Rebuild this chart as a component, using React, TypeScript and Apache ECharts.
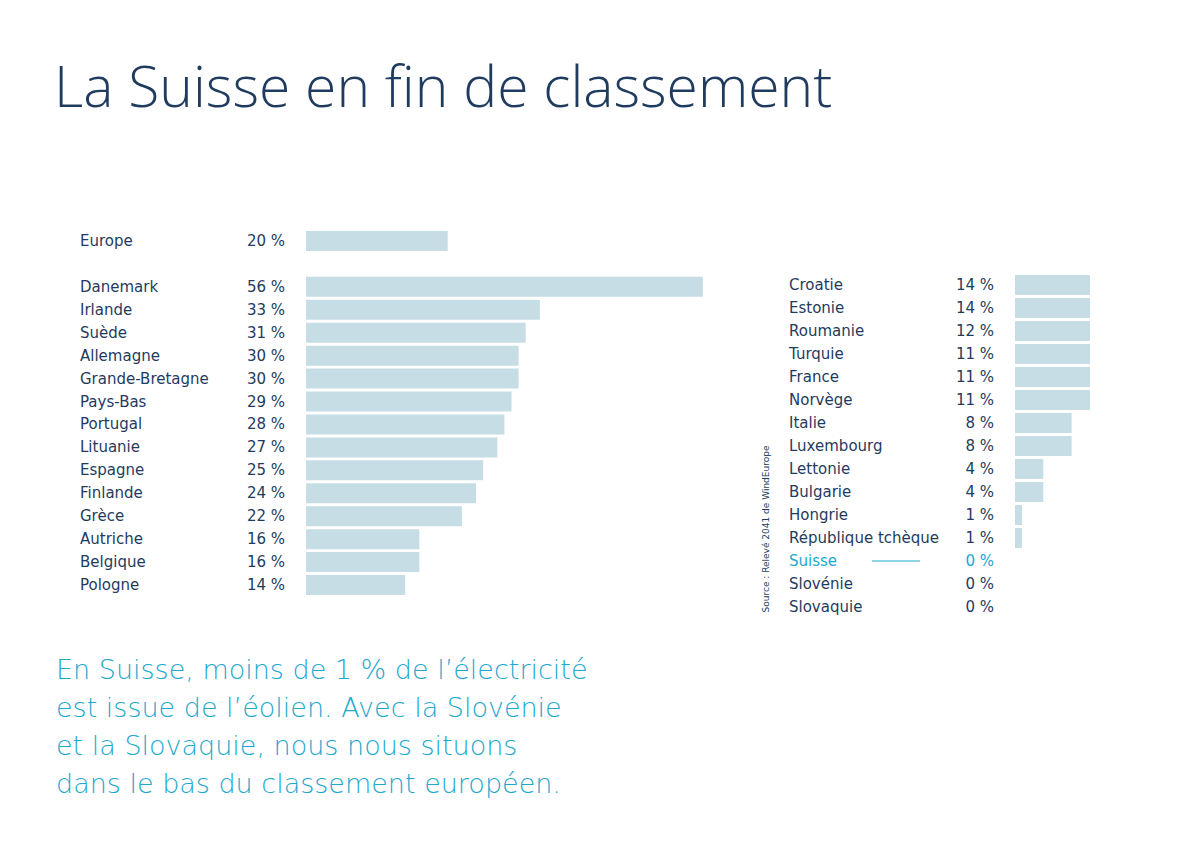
import React, { useEffect, useRef } from "react";
import * as echarts from "echarts";

const leftCountries = ["Europe", "", "Danemark", "Irlande", "Suède", "Allemagne", "Grande-Bretagne", "Pays-Bas", "Portugal", "Lituanie", "Espagne", "Finlande", "Grèce", "Autriche", "Belgique", "Pologne"];
const leftValues: (number | null)[] = [20, null, 56, 33, 31, 30, 30, 29, 28, 27, 25, 24, 22, 16, 16, 14];
const rightCountries = ["Croatie", "Estonie", "Roumanie", "Turquie", "France", "Norvège", "Italie", "Luxembourg", "Lettonie", "Bulgarie", "Hongrie", "République tchèque", "Suisse", "Slovénie", "Slovaquie"];
const rightValues = [14, 14, 12, 11, 11, 11, 8, 8, 4, 4, 1, 1, 0, 0, 0];

const titleText = "La Suisse en fin de classement";
const bodyText = "En Suisse, moins de 1 % de l’électricité\nest issue de l’éolien. Avec la Slovénie\net la Slovaquie, nous nous situons\ndans le bas du classement européen.";
const sourceText = "Source : Relevé 2041 de WindEurope";

const NAVY = "#1f3b5e";
const CYAN = "#1ea8cd";
const BAR = "#c6dde5";
const FONT = "DejaVu Sans";
const LIGHT = "Open Sans";

const fmt = (v: number | null) => (v === null ? "" : `${v} %`);

export default function App() {
  const ref = useRef<HTMLDivElement>(null);
  useEffect(() => {
    document.body.style.margin = "0";
    const chart = echarts.init(ref.current!, null, { renderer: "svg" });
    const labelStyle = { color: NAVY, fontFamily: FONT, fontSize: 15, fontWeight: "normal" as any };
    const mkNameAxis = (gi: number, cats: string[]) => ({
      type: "category",
      gridIndex: gi,
      position: "left",
      inverse: true,
      data: cats.map((name) =>
        name === "Suisse" ? { value: name, textStyle: { color: CYAN, align: "left" } } : name
      ),
      axisLine: { show: false },
      axisTick: { show: false },
      axisLabel: { ...labelStyle, align: "left", margin: 226, interval: 0 },
    });
    const mkValAxis = (gi: number, cats: string[], vals: (number | null)[]) => ({
      type: "category",
      gridIndex: gi,
      position: "left",
      inverse: true,
      data: vals.map((v, i) =>
        cats[i] === "Suisse" ? { value: fmt(v), textStyle: { color: CYAN, align: "right" } } : fmt(v)
      ),
      axisLine: { show: false },
      axisTick: { show: false },
      axisLabel: { ...labelStyle, align: "right", margin: 21, interval: 0 },
    });
    chart.setOption({
      animation: false,
      backgroundColor: "#ffffff",
      grid: [
        { left: 306, top: 229.5, width: 399, height: 367 },
        { left: 1015, top: 273.5, width: 75, height: 345 },
      ],
      xAxis: [
        { type: "value", gridIndex: 0, min: 0, max: 56.3, show: false },
        { type: "value", gridIndex: 1, min: 0, max: 10.6, show: false },
      ],
      yAxis: [
        mkNameAxis(0, leftCountries),
        mkValAxis(0, leftCountries, leftValues),
        mkNameAxis(1, rightCountries),
        mkValAxis(1, rightCountries, rightValues),
      ],
      series: [
        {
          type: "bar",
          xAxisIndex: 0,
          yAxisIndex: 0,
          data: leftValues,
          barCategoryGap: "13%",
          itemStyle: { color: BAR },
          clip: true,
          silent: true,
        },
        {
          type: "bar",
          xAxisIndex: 1,
          yAxisIndex: 2,
          data: rightValues,
          barCategoryGap: "13%",
          itemStyle: { color: BAR },
          clip: true,
          silent: true,
        },
      ],
      graphic: [
        {
          type: "text",
          left: 54,
          top: 56,
          style: { text: titleText, fill: NAVY, font: `300 57px "${LIGHT}"` },
        },
        {
          type: "text",
          left: 56,
          top: 650,
          style: { text: bodyText, fill: CYAN, font: `200 27px "${FONT}"`, lineHeight: 38 },
        },
        {
          type: "text",
          x: 766,
          y: 529,
          rotation: Math.PI / 2,
          style: {
            text: sourceText,
            fill: NAVY,
            font: `normal 9px "${FONT}"`,
            align: "center",
            verticalAlign: "middle",
          },
        },
        {
          type: "line",
          shape: { x1: 872, y1: 561, x2: 920, y2: 561 },
          style: { stroke: CYAN, lineWidth: 1 },
        },
      ],
    });
    return () => chart.dispose();
  }, []);
  return <div ref={ref} style={{ width: 1200, height: 851 }} />;
}
